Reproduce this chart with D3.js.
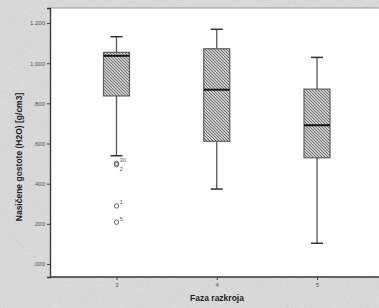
<!DOCTYPE html>
<html>
<head>
<meta charset="utf-8">
<script src="https://cdn.jsdelivr.net/npm/d3@7"></script>
<style>
  html, body { margin: 0; padding: 0; background: #d9d9d9; }
  svg { display: block; }
</style>
</head>
<body>
<svg id="chart" width="379" height="308"></svg>
<script>
// podatki
var categories = ['3', '4', '5'];
var whiskerLow = [0.539, 0.373, 0.103];
var q1 = [0.837, 0.611, 0.529];
var median = [1.037, 0.868, 0.691];
var q3 = [1.054, 1.072, 0.871];
var whiskerHigh = [1.132, 1.169, 1.029];
var outlierCat = ['3', '3', '3', '3'];
var outlierVal = [0.501, 0.494, 0.289, 0.208];
var outlierLab = ['30', '2', '1', '5'];
var yTicks = [0, 0.2, 0.4, 0.6, 0.8, 1.0, 1.2];

var svg = d3.select('#chart');
var W = 379, H = 308;
var plotLeft = 50, plotTop = 8, plotBottom = 277;

// ozadje s teksturo
var defs = svg.append('defs');
var f = defs.append('filter').attr('id', 'noise').attr('x', 0).attr('y', 0).attr('width', '100%').attr('height', '100%');
f.append('feTurbulence').attr('type', 'fractalNoise').attr('baseFrequency', 0.6).attr('numOctaves', 2).attr('seed', 3);
f.append('feColorMatrix').attr('type', 'matrix')
  .attr('values', '0 0 0 0 0.5  0 0 0 0 0.5  0 0 0 0 0.5  0 0 0 -1.2 0.75');
f.append('feComposite').attr('in2', 'SourceGraphic').attr('operator', 'in');

svg.append('rect').attr('width', W).attr('height', H).attr('fill', '#dadada');
svg.append('rect').attr('width', W).attr('height', H).attr('fill', '#dadada').attr('filter', 'url(#noise)').attr('opacity', 0.5);

// šrafura za škatle (drobna diagonalna mreža)
var pat = defs.append('pattern').attr('id', 'hatch').attr('patternUnits', 'userSpaceOnUse')
  .attr('width', 3).attr('height', 3);
pat.append('rect').attr('width', 3).attr('height', 3).attr('fill', '#cbcbcb');
[0, 1, 2].forEach(function(i) {
  pat.append('rect').attr('x', i).attr('y', i).attr('width', 1).attr('height', 1).attr('fill', '#6e6e6e');
});

// risalna površina
svg.append('rect').attr('x', plotLeft).attr('y', plotTop).attr('width', W - plotLeft).attr('height', plotBottom - plotTop)
  .attr('fill', '#ffffff');
svg.append('line').attr('x1', plotLeft).attr('x2', W).attr('y1', plotTop).attr('y2', plotTop)
  .attr('stroke', '#9a9a9a').attr('stroke-width', 1);

var x = d3.scalePoint().domain(categories).range([116.5, 317]);
var y = d3.scaleLinear().domain([-0.065, 1.275]).range([plotBottom, plotTop]);

// osi
var yAxis = d3.axisLeft(y).tickValues(yTicks).tickSize(3).tickPadding(2)
  .tickFormat(function(v) { return d3.format('.3f')(v).replace(/^0/, ''); });
var gy = svg.append('g').attr('transform', 'translate(' + plotLeft + ',0)').call(yAxis);

var xAxis = d3.axisBottom(x).tickSize(3).tickPadding(3);
var gx = svg.append('g').attr('transform', 'translate(0,' + plotBottom + ')').call(xAxis);
gx.select('.domain').attr('d', 'M' + plotLeft + ',0H' + W);

[gy, gx].forEach(function(g) {
  g.select('.domain').attr('stroke', '#333').attr('stroke-width', 1.3);
  g.selectAll('.tick line').attr('stroke', '#444');
  g.selectAll('.tick text').attr('fill', '#555').style('font-family', 'Liberation Sans, Arial, sans-serif').style('font-size', '6px');
});

// škatle z ročaji
var boxW = 26, capW = 12;
var data = categories.map(function(c, i) {
  return { c: c, lo: whiskerLow[i], q1: q1[i], med: median[i], q3: q3[i], hi: whiskerHigh[i] };
});
var g = svg.append('g');
g.selectAll('.stem').data(data).enter().append('line')
  .attr('x1', function(d) { return x(d.c); }).attr('x2', function(d) { return x(d.c); })
  .attr('y1', function(d) { return y(d.lo); }).attr('y2', function(d) { return y(d.hi); })
  .attr('stroke', '#555').attr('stroke-width', 1.3);
g.selectAll('.capLo').data(data).enter().append('line')
  .attr('x1', function(d) { return x(d.c) - capW / 2; }).attr('x2', function(d) { return x(d.c) + capW / 2; })
  .attr('y1', function(d) { return y(d.lo); }).attr('y2', function(d) { return y(d.lo); })
  .attr('stroke', '#333').attr('stroke-width', 1.5);
g.selectAll('.capHi').data(data).enter().append('line')
  .attr('x1', function(d) { return x(d.c) - capW / 2; }).attr('x2', function(d) { return x(d.c) + capW / 2; })
  .attr('y1', function(d) { return y(d.hi); }).attr('y2', function(d) { return y(d.hi); })
  .attr('stroke', '#333').attr('stroke-width', 1.5);
g.selectAll('.box').data(data).enter().append('rect')
  .attr('x', function(d) { return x(d.c) - boxW / 2; }).attr('width', boxW)
  .attr('y', function(d) { return y(d.q3); })
  .attr('height', function(d) { return y(d.q1) - y(d.q3); })
  .attr('fill', 'url(#hatch)').attr('stroke', '#5e5e5e').attr('stroke-width', 1.2);
g.selectAll('.med').data(data).enter().append('line')
  .attr('x1', function(d) { return x(d.c) - boxW / 2; }).attr('x2', function(d) { return x(d.c) + boxW / 2; })
  .attr('y1', function(d) { return y(d.med); }).attr('y2', function(d) { return y(d.med); })
  .attr('stroke', '#111').attr('stroke-width', 2);

// osamelci
var outl = outlierVal.map(function(v, i) { return { c: outlierCat[i], v: v, lab: outlierLab[i] }; });
g.selectAll('.out').data(outl).enter().append('circle')
  .attr('cx', function(d) { return x(d.c); }).attr('cy', function(d) { return y(d.v); })
  .attr('r', 2.2).attr('fill', 'none').attr('stroke', '#666').attr('stroke-width', 1);
g.selectAll('.outLab').data(outl).enter().append('text')
  .attr('x', function(d) { return x(d.c) + 3; })
  .attr('y', function(d, i) { return y(d.v) + (d.lab === '2' ? 6 : -1.5); })
  .text(function(d) { return d.lab; })
  .attr('fill', '#666').style('font-family', 'Liberation Sans, Arial, sans-serif').style('font-size', '6px');

// naslovi osi
svg.append('text').attr('x', 217).attr('y', 301).attr('text-anchor', 'middle')
  .style('font-family', 'Liberation Sans, Arial, sans-serif').style('font-size', '8.5px').style('font-weight', 'bold')
  .attr('fill', '#222').text('Faza razkroja');
svg.append('text').attr('transform', 'translate(22,157) rotate(-90)').attr('text-anchor', 'middle')
  .style('font-family', 'Liberation Sans, Arial, sans-serif').style('font-size', '8.5px').style('font-weight', 'bold')
  .attr('fill', '#222').text('Nasičene gostote (H2O) [g/cm3]');
</script>
</body>
</html>
